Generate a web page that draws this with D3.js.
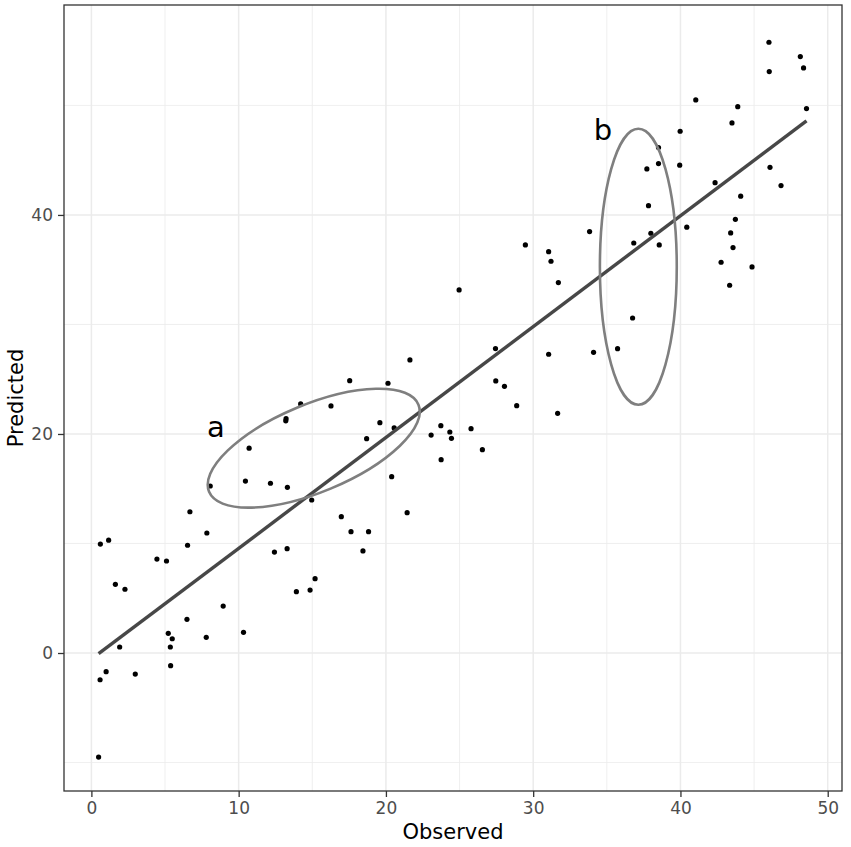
<!DOCTYPE html>
<html>
<head>
<meta charset="utf-8">
<script src="https://cdn.jsdelivr.net/npm/d3@7"></script>
<style>
  body { margin: 0; background: #fff; }
  text { font-family: "DejaVu Sans", sans-serif; }
  .grid-major { stroke: #ebebeb; stroke-width: 1.5; }
  .grid-minor { stroke: #ebebeb; stroke-width: 0.8; }
</style>
</head>
<body>
<svg id="chart"></svg>
<script>
// values
const observed = [0.61, 1.17, 1.63, 2.28, 1.92, 1.0, 0.59, 2.98, 0.49, 4.45,
  5.1, 6.53, 6.69, 7.84, 8.07, 5.22, 5.49, 5.36, 5.38, 6.49,
  7.8, 8.95, 10.33, 10.46, 12.16, 13.31, 12.43, 13.29, 14.96, 13.92,
  14.85, 15.19, 16.97, 17.63, 27.44, 27.46, 21.63, 17.54, 20.14, 14.21,
  16.27, 13.22, 13.2, 19.59, 20.56, 18.69, 23.07, 23.73, 24.34, 24.45,
  25.78, 26.55, 23.75, 10.71, 20.39, 18.82, 21.44, 18.44, 37.83, 37.99,
  36.83, 38.56, 40.43, 33.83, 29.47, 31.05, 31.21, 31.71, 24.97, 36.75,
  34.1, 35.73, 31.05, 28.05, 28.88, 31.66, 46.01, 48.14, 48.36, 46.03,
  41.04, 43.89, 48.56, 43.5, 39.98, 38.51, 38.51, 37.72, 39.95, 46.08,
  46.83, 42.35, 44.09, 43.73, 43.41, 43.57, 42.76, 44.86, 43.34];
const predicted = [9.95, 10.3, 6.27, 5.82, 0.55, -1.7, -2.44, -1.92, -9.5, 8.58,
  8.4, 9.84, 12.9, 10.96, 15.25, 1.8, 1.3, 0.55, -1.16, 3.08,
  1.43, 4.29, 1.89, 15.7, 15.5, 15.13, 9.22, 9.53, 13.97, 5.6,
  5.75, 6.79, 12.45, 11.08, 27.8, 24.84, 26.76, 24.87, 24.63, 22.74,
  22.56, 21.4, 21.2, 21.03, 20.55, 19.57, 19.9, 20.76, 20.18, 19.6,
  20.48, 18.57, 17.65, 18.7, 16.1, 11.08, 12.81, 9.32, 40.85, 38.33,
  37.44, 37.26, 38.88, 38.48, 37.26, 36.65, 35.77, 33.82, 33.15, 30.59,
  27.46, 27.79, 27.28, 24.35, 22.58, 21.89, 55.77, 54.46, 53.42, 53.09,
  50.5, 49.89, 49.71, 48.4, 47.64, 46.15, 44.69, 44.2, 44.54, 44.35,
  42.68, 42.95, 41.71, 39.6, 38.36, 37.02, 35.68, 35.25, 33.58];

// fitted line (lm)
const fitSlope = 1.012;
const fitIntercept = -0.56;

const xTicks = [0, 10, 20, 30, 40, 50];
const xMinor = [5, 15, 25, 35, 45];
const yTicks = [0, 20, 40];
const yMinor = [-10, 10, 30, 50];

const ellipseLabels = ["a", "b"];
const ellipseCx = [15.1, 37.14];
const ellipseCy = [18.7, 35.27];
const ellipseRx = [7.7, 2.61];
const ellipseRy = [4.0, 12.6];
const ellipseAngle = [-22.6, 0];
const labelX = [8.45, 34.73];
const labelY = [19.75, 46.85];

const W = 851, H = 847;
const margin = {top: 5, right: 9, bottom: 56, left: 64};
var width = W - margin.left - margin.right;
var height = H - margin.top - margin.bottom;

var xScale = d3.scaleLinear().domain([-1.86, 50.97]).range([0, width]);
var yScale = d3.scaleLinear().domain([-12.6, 59.17]).range([height, 0]);

var svg = d3.select("#chart").attr("width", W).attr("height", H);
svg.append("rect").attr("width", W).attr("height", H).attr("fill", "#fff");

var panel = svg.append("g").attr("transform", "translate(" + margin.left + "," + margin.top + ")");

// grid
panel.selectAll(".xminor").data(xMinor).enter().append("line").attr("class", "grid-minor")
  .attr("x1", d => xScale(d)).attr("x2", d => xScale(d)).attr("y1", 0).attr("y2", height);
panel.selectAll(".yminor").data(yMinor).enter().append("line").attr("class", "grid-minor")
  .attr("y1", d => yScale(d)).attr("y2", d => yScale(d)).attr("x1", 0).attr("x2", width);
panel.selectAll(".xmajor").data(xTicks).enter().append("line").attr("class", "grid-major")
  .attr("x1", d => xScale(d)).attr("x2", d => xScale(d)).attr("y1", 0).attr("y2", height);
panel.selectAll(".ymajor").data(yTicks).enter().append("line").attr("class", "grid-major")
  .attr("y1", d => yScale(d)).attr("y2", d => yScale(d)).attr("x1", 0).attr("x2", width);

// points
var pts = observed.map((o, i) => ({x: o, y: predicted[i]}));
panel.selectAll(".pt").data(pts).enter().append("circle")
  .attr("cx", d => xScale(d.x)).attr("cy", d => yScale(d.y)).attr("r", 2.6).attr("fill", "#000");

// fit line over the observed range
var xr = d3.extent(observed);
panel.append("line")
  .attr("x1", xScale(xr[0])).attr("y1", yScale(fitIntercept + fitSlope * xr[0]))
  .attr("x2", xScale(xr[1])).attr("y2", yScale(fitIntercept + fitSlope * xr[1]))
  .attr("stroke", "#474747").attr("stroke-width", 3.4);

// ellipses + labels
ellipseLabels.forEach(function(lab, i){
  var cx = xScale(ellipseCx[i]), cy = yScale(ellipseCy[i]);
  panel.append("ellipse")
    .attr("transform", "translate(" + cx + "," + cy + ") rotate(" + ellipseAngle[i] + ")")
    .attr("rx", xScale(ellipseCx[i] + ellipseRx[i]) - cx)
    .attr("ry", cy - yScale(ellipseCy[i] + ellipseRy[i]))
    .attr("fill", "none").attr("stroke", "#7f7f7f").attr("stroke-width", 2.6);
  panel.append("text").attr("x", xScale(labelX[i])).attr("y", yScale(labelY[i]))
    .attr("text-anchor", "middle").style("font-size", "29px").attr("fill", "#000").text(lab);
});

// border
panel.append("rect").attr("width", width).attr("height", height)
  .attr("fill", "none").attr("stroke", "#333").attr("stroke-width", 1.3);

// axes
var xAxis = panel.append("g").attr("transform", "translate(0," + height + ")")
  .call(d3.axisBottom(xScale).tickValues(xTicks).tickSize(6).tickPadding(5).tickSizeOuter(0));
var yAxis = panel.append("g")
  .call(d3.axisLeft(yScale).tickValues(yTicks).tickSize(6).tickPadding(5).tickSizeOuter(0));
[xAxis, yAxis].forEach(function(g){
  g.select(".domain").remove();
  g.selectAll(".tick line").attr("stroke", "#333").attr("stroke-width", 1.3);
  g.selectAll(".tick text").attr("fill", "#4d4d4d").style("font-size", "17px")
    .style("font-family", "DejaVu Sans, sans-serif");
});

svg.append("text").attr("x", margin.left + width / 2).attr("y", 839)
  .attr("text-anchor", "middle").style("font-size", "21px").attr("fill", "#000").text("Observed");
svg.append("text").attr("transform", "translate(23," + (margin.top + height / 2) + ") rotate(-90)")
  .attr("text-anchor", "middle").style("font-size", "21px").attr("fill", "#000").text("Predicted");
</script>
</body>
</html>
